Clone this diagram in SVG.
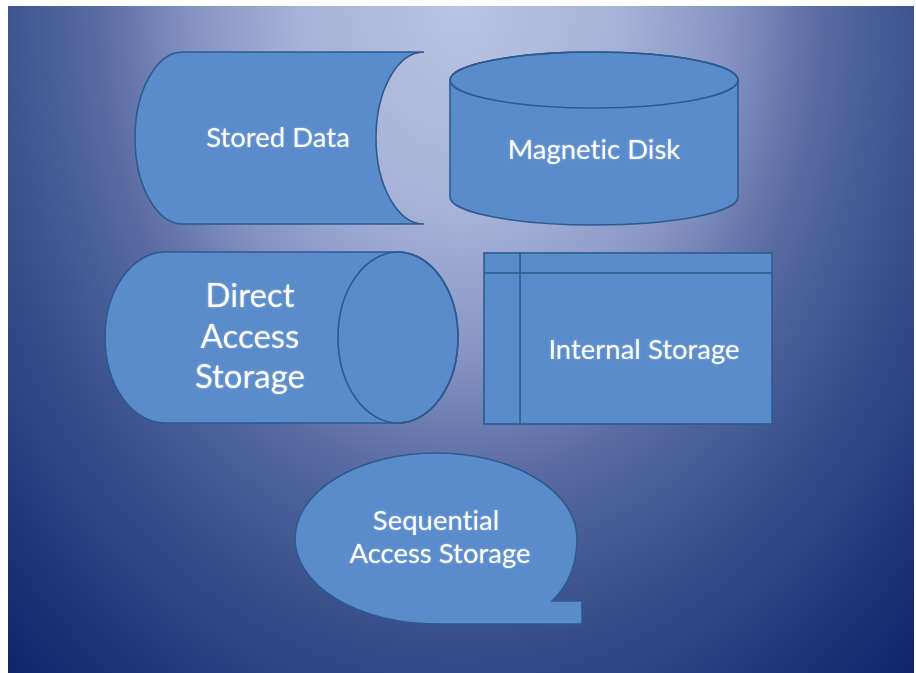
<svg xmlns="http://www.w3.org/2000/svg" width="916" height="673" viewBox="0 0 916 673">
  <defs>
    <radialGradient id="bg" gradientUnits="userSpaceOnUse" cx="460" cy="0" r="675" gradientTransform="translate(460 0) scale(1 1.33) translate(-460 0)">
      <stop offset="0" stop-color="#BAC5E3"/>
      <stop offset="0.24" stop-color="#A6B2D7"/>
      <stop offset="0.4" stop-color="#8593C3"/>
      <stop offset="0.53" stop-color="#5A6CA2"/>
      <stop offset="0.67" stop-color="#3E5590"/>
      <stop offset="1" stop-color="#10246A"/>
    </radialGradient>
    <filter id="glow" x="-10%" y="-30%" width="120%" height="160%">
      <feGaussianBlur in="SourceAlpha" stdDeviation="1.2" result="b"/>
      <feFlood flood-color="#DCEBFF" flood-opacity="0.45"/>
      <feComposite in2="b" operator="in" result="g"/>
      <feMerge><feMergeNode in="g"/><feMergeNode in="SourceGraphic"/></feMerge>
    </filter>
  </defs>
  <style>
    .shape { fill: #5A8BCB; stroke: #2D5A8F; stroke-width: 1.6; }
    .line { fill: none; stroke: #2D5A8F; stroke-width: 1.6; }
    .lbl { fill: #FFFFFF; font-family: Lato, "Open Sans", "Noto Sans", sans-serif; text-anchor: middle; font-variant-ligatures: none; filter: url(#glow); }
  </style>
  <rect x="0" y="0" width="916" height="673" fill="#FFFFFF"/>
  <rect x="8" y="6" width="906" height="667" fill="url(#bg)"/>

  <g id="stored-data">
    <path class="shape" d="M183,52 L424,52 A48,86 0 0 0 424,224 L183,224 A48,86 0 0 1 183,52 Z"/>
    <text class="lbl" x="278" y="147" font-size="27.5">Stored Data</text>
  </g>

  <g id="magnetic-disk">
    <path class="shape" d="M450,80 L450,197 A144,28 0 0 0 738,197 L738,80 A144,28 0 0 0 450,80 Z"/>
    <ellipse class="line" cx="594" cy="80" rx="144" ry="28"/>
    <text class="lbl" x="594" y="159" font-size="27.5">Magnetic Disk</text>
  </g>

  <g id="direct-access-storage">
    <path class="shape" d="M165,252 L398,252 A60,85.5 0 0 1 398,423 L165,423 A60,85.5 0 0 1 165,252 Z"/>
    <ellipse class="line" cx="398" cy="337.5" rx="60" ry="85.5"/>
    <text class="lbl" x="250" y="307" font-size="33">Direct</text>
    <text class="lbl" x="250" y="348" font-size="33">Access</text>
    <text class="lbl" x="250" y="388" font-size="33">Storage</text>
  </g>

  <g id="internal-storage">
    <rect class="shape" x="484" y="253" width="288" height="171"/>
    <line class="line" x1="484" y1="273" x2="772" y2="273"/>
    <line class="line" x1="520" y1="253" x2="520" y2="424"/>
    <text class="lbl" x="644" y="359" font-size="27.5">Internal Storage</text>
  </g>

  <g id="sequential-access-storage">
    <path class="shape" d="M436,624 A141,85.5 0 0 1 295,538.5 A141,85.5 0 0 1 436,453 A141,85.5 0 0 1 577,538.5 C577,564 568,586 552,601 L582,601 L582,624 Z"/>
    <text class="lbl" x="436" y="530" font-size="27.5">Sequential</text>
    <text class="lbl" x="440" y="563" font-size="27.5">Access Storage</text>
  </g>
</svg>
